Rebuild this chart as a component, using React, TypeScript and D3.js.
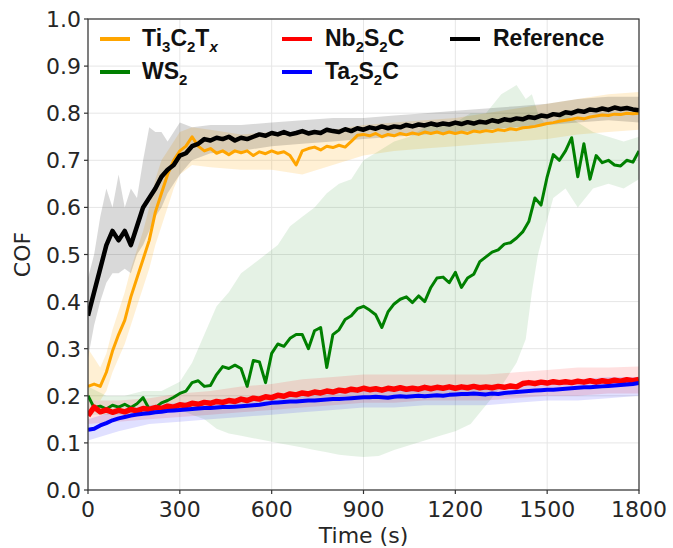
import React from "react";
import * as d3 from "d3";

// ---- sampling grid for the mean lines (s) ----
const TIME = d3.range(0, 1801, 20);

// ---- mean COF curves, every 20 s ----
const REF = [
  0.37, 0.42, 0.47, 0.52, 0.55, 0.53, 0.55, 0.52, 0.56, 0.6,
  0.62, 0.64, 0.665, 0.68, 0.69, 0.71, 0.715, 0.73, 0.735, 0.745,
  0.742, 0.748, 0.745, 0.75, 0.742, 0.748, 0.745, 0.75, 0.755, 0.752,
  0.758, 0.755, 0.76, 0.755, 0.758, 0.762, 0.757, 0.76, 0.758, 0.765,
  0.762, 0.76, 0.766, 0.762, 0.768, 0.765, 0.77, 0.767, 0.772, 0.768,
  0.772, 0.77, 0.775, 0.772, 0.776, 0.774, 0.778, 0.775, 0.778, 0.776,
  0.78, 0.777, 0.781, 0.778, 0.782, 0.78, 0.785, 0.782, 0.787, 0.785,
  0.789, 0.787, 0.792, 0.79, 0.795, 0.793, 0.798, 0.796, 0.802, 0.8,
  0.805, 0.803, 0.808, 0.806, 0.81, 0.807, 0.812, 0.809, 0.811, 0.808,
  0.806,
];
const TI = [
  0.22, 0.225, 0.22, 0.25, 0.295, 0.33, 0.36, 0.41, 0.45, 0.49,
  0.53, 0.59, 0.63, 0.67, 0.7, 0.72, 0.73, 0.75, 0.73, 0.72,
  0.725, 0.715, 0.72, 0.712, 0.72, 0.716, 0.72, 0.71, 0.718, 0.714,
  0.72, 0.715, 0.718, 0.71, 0.69, 0.72, 0.725, 0.728, 0.722, 0.73,
  0.727, 0.732, 0.728, 0.74, 0.753, 0.755, 0.752, 0.757, 0.75, 0.755,
  0.752, 0.757, 0.754, 0.758, 0.755, 0.76, 0.757, 0.76, 0.756, 0.76,
  0.757, 0.76, 0.757, 0.762, 0.76, 0.763, 0.761, 0.765, 0.763, 0.767,
  0.765, 0.769, 0.77, 0.772, 0.775, 0.778, 0.78, 0.783, 0.785, 0.787,
  0.79, 0.788, 0.792, 0.794, 0.796, 0.795, 0.798, 0.797, 0.8, 0.799,
  0.8,
];
const WS = [
  0.2, 0.175, 0.178, 0.172, 0.18, 0.176, 0.182, 0.175, 0.183, 0.196,
  0.172, 0.175, 0.185, 0.19, 0.197, 0.205, 0.21, 0.228, 0.232, 0.22,
  0.222, 0.245, 0.262, 0.258, 0.265, 0.258, 0.22, 0.275, 0.272, 0.228,
  0.29, 0.31, 0.305, 0.322, 0.33, 0.33, 0.3, 0.338, 0.345, 0.26,
  0.33, 0.34, 0.362, 0.37, 0.385, 0.39, 0.382, 0.372, 0.345, 0.378,
  0.395, 0.405, 0.41, 0.398, 0.412, 0.4, 0.43, 0.45, 0.452, 0.44,
  0.462, 0.43, 0.45, 0.458, 0.485, 0.495, 0.505, 0.51, 0.522, 0.525,
  0.535, 0.548, 0.57, 0.62, 0.605, 0.665, 0.712, 0.7, 0.72, 0.748,
  0.665, 0.735, 0.66, 0.71, 0.695, 0.7, 0.69, 0.688, 0.7, 0.696,
  0.72,
];
const NB = [
  0.158, 0.176, 0.166, 0.17, 0.165, 0.169, 0.166, 0.171, 0.168, 0.173,
  0.171, 0.175, 0.173, 0.178, 0.176, 0.181, 0.179, 0.184, 0.182, 0.186,
  0.184, 0.188, 0.186, 0.19, 0.188, 0.193, 0.19, 0.195, 0.193, 0.198,
  0.196, 0.201, 0.199, 0.204, 0.202, 0.206, 0.204, 0.208, 0.206, 0.21,
  0.208, 0.212, 0.21, 0.214, 0.212, 0.216, 0.213, 0.215, 0.212, 0.216,
  0.214, 0.217, 0.214, 0.216, 0.214, 0.218, 0.215, 0.218, 0.216, 0.219,
  0.216, 0.219, 0.217, 0.22, 0.217, 0.219, 0.217, 0.22, 0.218, 0.221,
  0.219, 0.226, 0.228, 0.226, 0.229, 0.227, 0.23, 0.228, 0.23, 0.228,
  0.231, 0.229, 0.232, 0.229, 0.232, 0.23, 0.233, 0.231, 0.234, 0.232,
  0.235,
];
const TA = [
  0.128, 0.13, 0.137, 0.142, 0.148, 0.152, 0.155, 0.158, 0.16, 0.162,
  0.163, 0.165, 0.166, 0.168, 0.169, 0.17, 0.171, 0.172, 0.173, 0.174,
  0.174, 0.175, 0.176, 0.176, 0.177, 0.178, 0.179, 0.18, 0.181, 0.183,
  0.185, 0.186, 0.187, 0.188, 0.188, 0.189, 0.19, 0.19, 0.191, 0.192,
  0.193, 0.193, 0.194, 0.195, 0.196, 0.197, 0.197, 0.198, 0.197, 0.196,
  0.198, 0.199, 0.198, 0.199, 0.2, 0.199, 0.2, 0.201, 0.2, 0.202,
  0.203, 0.204, 0.204, 0.205, 0.204, 0.203, 0.205, 0.204, 0.206, 0.207,
  0.208, 0.209, 0.21, 0.211, 0.212, 0.213, 0.213, 0.214, 0.215, 0.216,
  0.217, 0.218, 0.218, 0.219, 0.22, 0.221, 0.222, 0.223, 0.224, 0.225,
  0.227,
];

// ---- spread bands (upper / lower) ----
const REF_BAND_T = [0, 20, 40, 60, 80, 100, 120, 140, 160, 180, 200, 220, 240, 260, 280, 300, 340, 400, 500, 600, 700, 800, 900, 1000, 1100, 1200, 1300, 1400, 1500, 1600, 1700, 1800];
const REF_HI = [0.45, 0.5, 0.58, 0.64, 0.6, 0.67, 0.6, 0.64, 0.62, 0.7, 0.77, 0.76, 0.76, 0.74, 0.76, 0.78, 0.77, 0.775, 0.775, 0.78, 0.785, 0.79, 0.79, 0.795, 0.8, 0.805, 0.81, 0.815, 0.82, 0.83, 0.835, 0.835];
const REF_LO = [0.28, 0.35, 0.4, 0.44, 0.46, 0.46, 0.47, 0.46, 0.5, 0.52, 0.55, 0.58, 0.6, 0.63, 0.65, 0.67, 0.7, 0.715, 0.72, 0.73, 0.735, 0.74, 0.745, 0.75, 0.755, 0.76, 0.765, 0.77, 0.775, 0.78, 0.785, 0.78];

const TI_BAND_T = REF_BAND_T;
const TI_HI = [0.3, 0.28, 0.26, 0.29, 0.34, 0.38, 0.42, 0.47, 0.51, 0.55, 0.6, 0.66, 0.7, 0.72, 0.74, 0.76, 0.77, 0.765, 0.755, 0.76, 0.76, 0.765, 0.775, 0.78, 0.785, 0.79, 0.8, 0.81, 0.82, 0.83, 0.84, 0.845];
const TI_LO = [0.19, 0.19, 0.19, 0.21, 0.25, 0.28, 0.31, 0.35, 0.39, 0.43, 0.47, 0.52, 0.56, 0.6, 0.64, 0.67, 0.69, 0.685, 0.68, 0.68, 0.67, 0.69, 0.71, 0.72, 0.725, 0.73, 0.735, 0.74, 0.745, 0.755, 0.76, 0.765];

const WS_BAND_T = [0, 60, 120, 180, 240, 300, 340, 380, 420, 460, 500, 540, 580, 620, 660, 700, 740, 780, 820, 860, 900, 950, 1000, 1050, 1100, 1150, 1200, 1250, 1300, 1350, 1400, 1430, 1450, 1470, 1490, 1520, 1560, 1600, 1650, 1700, 1750, 1800];
const WS_HI = [0.22, 0.2, 0.2, 0.21, 0.21, 0.23, 0.27, 0.33, 0.39, 0.42, 0.46, 0.48, 0.5, 0.52, 0.56, 0.58, 0.6, 0.63, 0.65, 0.66, 0.7, 0.72, 0.74, 0.75, 0.77, 0.78, 0.78, 0.8, 0.8, 0.84, 0.86, 0.83, 0.84, 0.8, 0.78, 0.78, 0.8, 0.78, 0.76, 0.75, 0.74, 0.75];
const WS_LO = [0.16, 0.16, 0.16, 0.16, 0.17, 0.17, 0.16, 0.15, 0.13, 0.12, 0.115, 0.11, 0.105, 0.1, 0.095, 0.09, 0.085, 0.08, 0.075, 0.072, 0.07, 0.072, 0.085, 0.095, 0.105, 0.115, 0.125, 0.14, 0.18, 0.22, 0.27, 0.32, 0.42, 0.5, 0.55, 0.62, 0.64, 0.6, 0.64, 0.65, 0.64, 0.66];

const NB_BAND_T = [0, 100, 200, 300, 400, 500, 600, 700, 800, 900, 1000, 1100, 1200, 1300, 1400, 1500, 1600, 1700, 1800];
const NB_HI = [0.19, 0.19, 0.195, 0.205, 0.21, 0.22, 0.225, 0.235, 0.24, 0.245, 0.245, 0.245, 0.245, 0.245, 0.25, 0.255, 0.26, 0.26, 0.262];
const NB_LO = [0.14, 0.145, 0.15, 0.155, 0.16, 0.165, 0.17, 0.175, 0.18, 0.185, 0.185, 0.19, 0.19, 0.19, 0.195, 0.2, 0.2, 0.205, 0.205];

const TA_BAND_T = NB_BAND_T;
const TA_HI = [0.15, 0.17, 0.18, 0.185, 0.19, 0.195, 0.2, 0.205, 0.21, 0.215, 0.215, 0.215, 0.22, 0.22, 0.225, 0.23, 0.235, 0.24, 0.24];
const TA_LO = [0.105, 0.125, 0.14, 0.145, 0.15, 0.155, 0.16, 0.165, 0.17, 0.175, 0.175, 0.18, 0.18, 0.18, 0.185, 0.19, 0.19, 0.195, 0.2];

// ---- axes ----
const X_TICKS = [0, 300, 600, 900, 1200, 1500, 1800];
const Y_TICKS = [0, 0.1, 0.2, 0.3, 0.4, 0.5, 0.6, 0.7, 0.8, 0.9, 1.0];

const W = 673;
const H = 548;
const M = { left: 88, right: 34, top: 19, bottom: 58 };

const x = d3.scaleLinear().domain([0, 1800]).range([M.left, W - M.right]);
const y = d3.scaleLinear().domain([0, 1]).range([H - M.bottom, M.top]);

const lineGen = d3
  .line<[number, number]>()
  .x((d) => x(d[0]))
  .y((d) => y(d[1]));

const areaGen = d3
  .area<[number, number, number]>()
  .x((d) => x(d[0]))
  .y0((d) => y(d[1]))
  .y1((d) => y(d[2]));

const pts = (vals: number[]) => vals.map((v, i) => [TIME[i], v] as [number, number]);
const band = (t: number[], lo: number[], hi: number[]) =>
  t.map((tt, i) => [tt, lo[i], hi[i]] as [number, number, number]);

const SERIES = [
  { key: "ti", vals: TI, color: "#FFA500", width: 3, band: band(TI_BAND_T, TI_LO, TI_HI), bandOpacity: 0.17 },
  { key: "ws", vals: WS, color: "#008000", width: 3, band: band(WS_BAND_T, WS_LO, WS_HI), bandOpacity: 0.1 },
  { key: "nb", vals: NB, color: "#FF0000", width: 5.5, band: band(NB_BAND_T, NB_LO, NB_HI), bandOpacity: 0.12 },
  { key: "ta", vals: TA, color: "#0000FF", width: 4, band: band(TA_BAND_T, TA_LO, TA_HI), bandOpacity: 0.12 },
  { key: "ref", vals: REF, color: "#000000", width: 4.5, band: band(REF_BAND_T, REF_LO, REF_HI), bandOpacity: 0.15 },
];

const tickFont = "DejaVu Sans, sans-serif";
const legFont = "Liberation Sans, Arial, sans-serif";

function Sub({ children }: { children: React.ReactNode }) {
  return (
    <tspan fontSize={15} dy={6}>
      {children}
    </tspan>
  );
}

export default function App() {
  const x0 = M.left;
  const x1 = W - M.right;
  const y0 = H - M.bottom;
  const y1 = M.top;
  return (
    <svg
      width={W}
      height={H}
      style={{ position: "absolute", left: 0, top: 0, background: "#fff" }}
    >
      <defs>
        <clipPath id="plot">
          <rect x={x0} y={y1} width={x1 - x0} height={y0 - y1} />
        </clipPath>
      </defs>
      {/* grid */}
      {X_TICKS.map((t) => (
        <line key={"gx" + t} x1={x(t)} x2={x(t)} y1={y1} y2={y0} stroke="#e6e6e6" strokeWidth={1} />
      ))}
      {Y_TICKS.map((t) => (
        <line key={"gy" + t} x1={x0} x2={x1} y1={y(t)} y2={y(t)} stroke="#e6e6e6" strokeWidth={1} />
      ))}
      <g clipPath="url(#plot)">
        {SERIES.map((s) => (
          <path key={"b" + s.key} d={areaGen(s.band) || ""} fill={s.color} fillOpacity={s.bandOpacity} stroke="none" />
        ))}
        {SERIES.map((s) => (
          <path
            key={"l" + s.key}
            d={lineGen(pts(s.vals)) || ""}
            fill="none"
            stroke={s.color}
            strokeWidth={s.width}
            strokeLinejoin="round"
          />
        ))}
      </g>
      {/* frame */}
      <rect x={x0} y={y1} width={x1 - x0} height={y0 - y1} fill="none" stroke="#333" strokeWidth={1.2} />
      {/* ticks */}
      {X_TICKS.map((t) => (
        <g key={"tx" + t}>
          <line x1={x(t)} x2={x(t)} y1={y0} y2={y0 + 4} stroke="#333" strokeWidth={1.2} />
          <text x={x(t)} y={y0 + 27} textAnchor="middle" fontFamily={tickFont} fontSize={22} fill="#262626">
            {t}
          </text>
        </g>
      ))}
      {Y_TICKS.map((t) => (
        <g key={"ty" + t}>
          <line x1={x0 - 4} x2={x0} y1={y(t)} y2={y(t)} stroke="#333" strokeWidth={1.2} />
          <text x={x0 - 7} y={y(t) + 8} textAnchor="end" fontFamily={tickFont} fontSize={22} fill="#262626">
            {t.toFixed(1)}
          </text>
        </g>
      ))}
      <text x={(x0 + x1) / 2} y={543} textAnchor="middle" fontFamily={tickFont} fontSize={22} fill="#262626">
        Time (s)
      </text>
      <text
        transform={`translate(30, ${(y0 + y1) / 2}) rotate(-90)`}
        textAnchor="middle"
        fontFamily={tickFont}
        fontSize={22}
        fill="#262626"
      >
        COF
      </text>
      {/* legend */}
      <g fontFamily={legFont} fontWeight="bold" fontSize={23} fill="#111">
        <line x1={100} x2={130} y1={39} y2={39} stroke="#FFA500" strokeWidth={4} />
        <text x={142} y={46}>
          Ti<Sub>3</Sub>
          <tspan dy={-6}>C</tspan>
          <Sub>2</Sub>
          <tspan dy={-6}>T</tspan>
          <tspan fontSize={15} dy={6} fontStyle="italic">x</tspan>
        </text>
        <line x1={100} x2={130} y1={72} y2={72} stroke="#008000" strokeWidth={4} />
        <text x={142} y={79}>
          WS<Sub>2</Sub>
        </text>
        <line x1={282} x2={312} y1={39} y2={39} stroke="#FF0000" strokeWidth={4} />
        <text x={325} y={46}>
          Nb<Sub>2</Sub>
          <tspan dy={-6}>S</tspan>
          <Sub>2</Sub>
          <tspan dy={-6}>C</tspan>
        </text>
        <line x1={282} x2={312} y1={72} y2={72} stroke="#0000FF" strokeWidth={4} />
        <text x={325} y={79}>
          Ta<Sub>2</Sub>
          <tspan dy={-6}>S</tspan>
          <Sub>2</Sub>
          <tspan dy={-6}>C</tspan>
        </text>
        <line x1={450} x2={480} y1={39} y2={39} stroke="#000" strokeWidth={4} />
        <text x={493} y={46}>
          Reference
        </text>
      </g>
    </svg>
  );
}
